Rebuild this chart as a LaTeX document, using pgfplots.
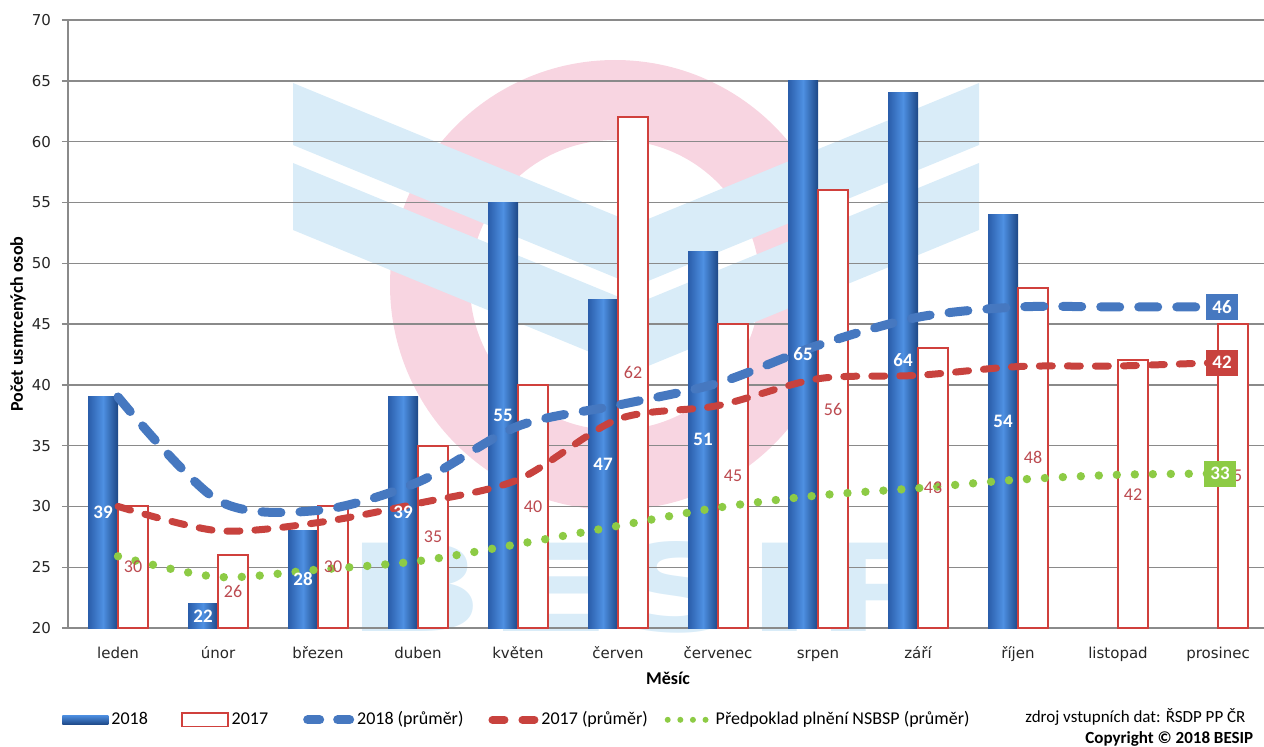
\documentclass[border=0pt]{standalone}
\usepackage{fontspec}
\setmainfont{Carlito}
\newfontfamily\tickfont{DejaVu Sans}
\usepackage{pgfplots}
\usepackage{pgfplotstable}
\pgfplotsset{compat=1.18}

\definecolor{wmblue}{HTML}{D9ECF8}
\definecolor{wmpink}{HTML}{F8D5E1}
\definecolor{gridgray}{HTML}{8A8A8A}
\definecolor{barE}{HTML}{2A5DAA}
\definecolor{barM}{HTML}{4E90E2}
\definecolor{barE2}{HTML}{1D4786}
\definecolor{barred}{HTML}{D0403C}
\definecolor{lblred}{HTML}{BC4A50}
\definecolor{lineblue}{HTML}{4678C0}
\definecolor{linered}{HTML}{C8423E}
\definecolor{linegreen}{HTML}{8DCB45}

\pgfplotsset{bar2018/.style={ybar, bar width=15pt, bar shift=-7.5pt, draw=none,
  left color=barE, right color=barE2, middle color=barM, forget plot}}

% x = month index, y = value
\pgfplotstableread{
x y
0 39
1 22
2 28
3 39
4 55
5 47
6 51
7 65
8 64
9 54
}\tA
\pgfplotstableread{
x y
0 30
1 26
2 30
3 35
4 40
5 62
6 45
7 56
8 43
9 48
10 42
11 45
}\tB
\pgfplotstableread{
x y
0 39
1 30.5
2 29.67
3 32
4 36.6
5 38.33
6 40.14
7 43.25
8 45.56
9 46.4
10 46.4
11 46.4
}\tAvgA
\pgfplotstableread{
x y
0 30
1 28
2 28.67
3 30.25
4 32.2
5 37.17
6 38.29
7 40.5
8 40.78
9 41.5
10 41.55
11 41.83
}\tAvgB
\pgfplotstableread{
x y
0 25.9
1 24.2
2 24.8
3 25.5
4 26.9
5 28.4
6 29.9
7 30.9
8 31.5
9 32.2
10 32.6
11 32.7
}\tPred

\begin{document}
\begin{tikzpicture}
\useasboundingbox (0,0) rectangle (632pt,373pt);
\clip (0,0) rectangle (632pt,373pt);
% watermark (pixel coordinates)
\begin{scope}[shift={(0pt,373pt)}, x=0.5pt, y=-0.5pt]
  \fill[wmpink, even odd rule] (615,285) circle[radius=225] (615,285) circle[radius=145];
  \fill[wmblue] (293,83) -- (636,224) -- (979,83) -- (979,145) -- (636,286) -- (293,145) -- cycle;
  \fill[wmblue] (293,163) -- (636,304) -- (979,163) -- (979,230) -- (636,371) -- (293,230) -- cycle;
  \node[anchor=south west, inner sep=0pt, text=wmblue] at (345,634) {\resizebox{302pt}{45pt}{\tickfont\bfseries BESIP}};
\end{scope}

\begin{axis}[
  at={(34pt,59pt)}, anchor=south west,
  width=600pt, height=304pt, scale only axis,
  xmin=-0.5, xmax=11.5, ymin=20, ymax=70,
  axis lines*=left,
  axis line style={draw=gridgray, line width=0.7pt},
  ymajorgrids, grid style={draw=gridgray, line width=0.7pt},
  ytick={20,25,...,70},
  xtick={0,...,11},
  xticklabels={leden,únor,březen,duben,květen,červen,červenec,srpen,září,říjen,listopad,prosinec},
  /pgf/number format/assume math mode=true,
  tick align=outside, major tick length=3pt,
  xtick style={draw=none},
  ytick style={draw=gridgray, line width=0.7pt},
  tick label style={font=\tickfont\fontsize{7.5}{9}\selectfont, text=black!85},
  xticklabel style={anchor=base, yshift=-12pt},
  yticklabel style={xshift=-2pt},
  ylabel={Počet usmrcených osob},
  ylabel style={at={(axis description cs:-0.0417,0.5)}, anchor=center, font=\bfseries\fontsize{9}{10}\selectfont},
  xlabel={Měsíc},
  xlabel style={at={(axis description cs:0.5,-0.082)}, anchor=center, font=\bfseries\fontsize{9}{10}\selectfont},
  legend columns=5,
  legend style={at={(-0.005,-0.151)}, anchor=west, draw=none, fill=none,
    font=\fontsize{9}{10}\selectfont, inner sep=0pt,
    nodes={inner sep=1.5pt},
    /tikz/column 2/.style={column sep=15pt},
    /tikz/column 4/.style={column sep=16pt},
    /tikz/column 6/.style={column sep=11pt},
    /tikz/column 8/.style={column sep=7pt}},
]
% 2018 bars (one path each, so that each bar gets its own shading)
\addplot[ybar, bar width=15pt, bar shift=-7.5pt, draw=none,
  left color=barE, right color=barE2, middle color=barM,
  legend image code/.code={\shade[top color=barM, bottom color=barE2] (0pt,-2.4pt) rectangle (23pt,2.4pt);}]
  coordinates {(0,39)};
\addlegendentry{2018}
\addplot[bar2018] coordinates {(1,22)};
\addplot[bar2018] coordinates {(2,28)};
\addplot[bar2018] coordinates {(3,39)};
\addplot[bar2018] coordinates {(4,55)};
\addplot[bar2018] coordinates {(5,47)};
\addplot[bar2018] coordinates {(6,51)};
\addplot[bar2018] coordinates {(7,65)};
\addplot[bar2018] coordinates {(8,64)};
\addplot[bar2018] coordinates {(9,54)};
% 2017 bars
\addplot[ybar, bar width=15pt, bar shift=7.5pt, draw=barred, fill=white, line width=1pt,
  legend image code/.code={\draw[draw=barred, fill=white, line width=0.9pt] (0pt,-3.3pt) rectangle (23pt,3.3pt);}]
  table[x=x, y=y]{\tB};
\addlegendentry{2017}
% averages
\addplot[smooth, mark=none, color=lineblue, line width=4.5pt, line cap=round, dash pattern=on 9.5pt off 9.5pt,
  legend image code/.code={\draw[color=lineblue, line width=4.5pt, line cap=round, dash pattern=on 6pt off 9pt] (2pt,0pt) -- (23pt,0pt);}]
  table[x=x, y=y]{\tAvgA};
\addlegendentry{2018 (průměr)}
\addplot[smooth, mark=none, color=linered, line width=3.5pt, line cap=round, dash pattern=on 6.5pt off 7.5pt,
  legend image code/.code={\draw[color=linered, line width=4pt, line cap=round, dash pattern=on 6pt off 9pt] (2pt,0pt) -- (23pt,0pt);}]
  table[x=x, y=y]{\tAvgB};
\addlegendentry{2017 (průměr)}
\addplot[smooth, mark=none, color=linegreen, line width=4.2pt, line cap=round, dash pattern=on 0pt off 9pt,
  legend image code/.code={\draw[color=linegreen, line width=3pt, line cap=round, dash pattern=on 0pt off 6.3pt] (2pt,0pt) -- (23pt,0pt);}]
  table[x=x, y=y]{\tPred};
\addlegendentry{Předpoklad plnění NSBSP (průměr)}

% bar value labels
\addplot[forget plot, draw=none, mark=none, nodes near coords, point meta=explicit,
  every node near coord/.append style={anchor=center, text=white, font=\bfseries\fontsize{9.5}{10}\selectfont}]
  table[x expr=\thisrow{x}-0.15, y expr=(\thisrow{y}+20)/2, meta=y]{\tA};
\addplot[forget plot, draw=none, mark=none, nodes near coords, point meta=explicit,
  every node near coord/.append style={anchor=center, text=lblred, font=\fontsize{9}{10}\selectfont}]
  table[x expr=\thisrow{x}+0.15, y expr=(\thisrow{y}+20)/2, meta=y]{\tB};

% end-of-line labels
\addplot[forget plot, draw=none, mark=none, nodes near coords={\pgfmathprintnumber[fixed,precision=0]{\pgfplotspointmeta}}, point meta=y,
  every node near coord/.append style={anchor=center, xshift=2pt, fill=lineblue, text=white, minimum width=16pt, minimum height=13pt, inner sep=1pt, font=\bfseries\fontsize{9.5}{10}\selectfont}]
  coordinates {(11,46.4)};
\addplot[forget plot, draw=none, mark=none, nodes near coords={\pgfmathprintnumber[fixed,precision=0]{\pgfplotspointmeta}}, point meta=y,
  every node near coord/.append style={anchor=center, xshift=2pt, fill=linered, text=white, minimum width=16pt, minimum height=13pt, inner sep=1pt, font=\bfseries\fontsize{9.5}{10}\selectfont}]
  coordinates {(11,41.83)};
\addplot[forget plot, draw=none, mark=none, nodes near coords={\pgfmathprintnumber[fixed,precision=0]{\pgfplotspointmeta}}, point meta=y,
  every node near coord/.append style={anchor=center, xshift=1pt, fill=linegreen, text=white, minimum width=16pt, minimum height=13pt, inner sep=1pt, font=\bfseries\fontsize{9.5}{10}\selectfont}]
  coordinates {(11,32.7)};
\end{axis}

\begin{scope}[shift={(0pt,373pt)}, x=0.5pt, y=-0.5pt]
  \node[anchor=west, inner sep=0pt, font=\fontsize{8.5}{10}\selectfont] at (1025,717) {zdroj vstupních dat: ŘSDP PP ČR};
  \node[anchor=west, inner sep=0pt, font=\bfseries\fontsize{8.5}{10}\selectfont] at (1085,739) {Copyright © 2018 BESIP};
\end{scope}
\end{tikzpicture}
\end{document}
